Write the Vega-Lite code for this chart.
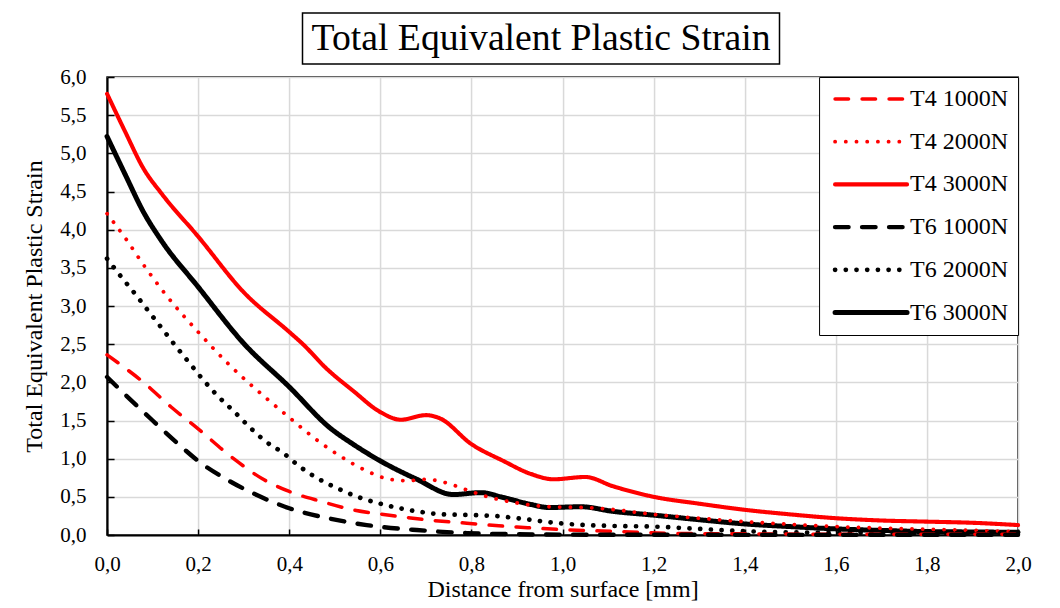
{
  "$schema": "https://vega.github.io/schema/vega-lite/v6.json",
  "background": "white",
  "padding": {"left": 22, "top": 12, "right": 5, "bottom": 5},
  "spacing": 0,
  "center": true,
  "bounds": "full",
  "resolve": {"legend": {"color": "independent", "strokeDash": "independent", "strokeWidth": "independent"}},
  "config": {
    "font": "Liberation Serif",
    "view": {"stroke": "black", "strokeWidth": 1.5}
  },
  "vconcat": [
    {
      "spacing": 0,
      "hconcat": [
        {
          "width": 477,
          "height": 51,
          "data": {"values": [{"label": "Total Equivalent Plastic Strain"}]},
          "mark": {"type": "text", "fontSize": 37.7, "font": "Liberation Serif", "color": "black", "align": "center", "baseline": "middle"},
          "encoding": {"text": {"field": "label"}},
          "view": {"stroke": "black", "strokeWidth": 1.5}
        },
        {
          "width": 56,
          "height": 51,
          "data": {"values": [{"label": ""}]},
          "mark": {"type": "text", "fontSize": 10},
          "encoding": {"text": {"field": "label"}},
          "view": {"stroke": null}
        }
      ]
    },
    {
      "width": 911,
      "height": 458,
      "view": {"stroke": "black", "strokeWidth": 1.5},
      "data": {"values": [
        {"series": "T4 3000N", "distance": 0, "strain": 5.78},
        {"series": "T4 3000N", "distance": 0.04, "strain": 5.28},
        {"series": "T4 3000N", "distance": 0.08, "strain": 4.8},
        {"series": "T4 3000N", "distance": 0.12, "strain": 4.47},
        {"series": "T4 3000N", "distance": 0.2, "strain": 3.91},
        {"series": "T4 3000N", "distance": 0.3, "strain": 3.18},
        {"series": "T4 3000N", "distance": 0.4, "strain": 2.66},
        {"series": "T4 3000N", "distance": 0.43, "strain": 2.5},
        {"series": "T4 3000N", "distance": 0.48, "strain": 2.19},
        {"series": "T4 3000N", "distance": 0.54, "strain": 1.89},
        {"series": "T4 3000N", "distance": 0.6, "strain": 1.61},
        {"series": "T4 3000N", "distance": 0.645, "strain": 1.51},
        {"series": "T4 3000N", "distance": 0.7, "strain": 1.57},
        {"series": "T4 3000N", "distance": 0.73, "strain": 1.53},
        {"series": "T4 3000N", "distance": 0.8, "strain": 1.19},
        {"series": "T4 3000N", "distance": 0.87, "strain": 0.97},
        {"series": "T4 3000N", "distance": 0.93, "strain": 0.8},
        {"series": "T4 3000N", "distance": 0.98, "strain": 0.73},
        {"series": "T4 3000N", "distance": 1.05, "strain": 0.76},
        {"series": "T4 3000N", "distance": 1.11, "strain": 0.64},
        {"series": "T4 3000N", "distance": 1.2, "strain": 0.5},
        {"series": "T4 3000N", "distance": 1.3, "strain": 0.41},
        {"series": "T4 3000N", "distance": 1.4, "strain": 0.33},
        {"series": "T4 3000N", "distance": 1.5, "strain": 0.27},
        {"series": "T4 3000N", "distance": 1.6, "strain": 0.22},
        {"series": "T4 3000N", "distance": 1.7, "strain": 0.19},
        {"series": "T4 3000N", "distance": 1.8, "strain": 0.175},
        {"series": "T4 3000N", "distance": 1.9, "strain": 0.16},
        {"series": "T4 3000N", "distance": 2.0, "strain": 0.13},

        {"series": "T6 3000N", "distance": 0, "strain": 5.22},
        {"series": "T6 3000N", "distance": 0.04, "strain": 4.72},
        {"series": "T6 3000N", "distance": 0.08, "strain": 4.23},
        {"series": "T6 3000N", "distance": 0.12, "strain": 3.85},
        {"series": "T6 3000N", "distance": 0.2, "strain": 3.25},
        {"series": "T6 3000N", "distance": 0.3, "strain": 2.51},
        {"series": "T6 3000N", "distance": 0.4, "strain": 1.94},
        {"series": "T6 3000N", "distance": 0.49, "strain": 1.4},
        {"series": "T6 3000N", "distance": 0.54, "strain": 1.19},
        {"series": "T6 3000N", "distance": 0.6, "strain": 0.97},
        {"series": "T6 3000N", "distance": 0.68, "strain": 0.73},
        {"series": "T6 3000N", "distance": 0.76, "strain": 0.53},
        {"series": "T6 3000N", "distance": 0.82, "strain": 0.555},
        {"series": "T6 3000N", "distance": 0.87, "strain": 0.49},
        {"series": "T6 3000N", "distance": 0.93, "strain": 0.4},
        {"series": "T6 3000N", "distance": 0.97, "strain": 0.36},
        {"series": "T6 3000N", "distance": 1.04, "strain": 0.37},
        {"series": "T6 3000N", "distance": 1.11, "strain": 0.31},
        {"series": "T6 3000N", "distance": 1.2, "strain": 0.26},
        {"series": "T6 3000N", "distance": 1.3, "strain": 0.2},
        {"series": "T6 3000N", "distance": 1.4, "strain": 0.145},
        {"series": "T6 3000N", "distance": 1.5, "strain": 0.11},
        {"series": "T6 3000N", "distance": 1.6, "strain": 0.08},
        {"series": "T6 3000N", "distance": 1.7, "strain": 0.06},
        {"series": "T6 3000N", "distance": 1.8, "strain": 0.045},
        {"series": "T6 3000N", "distance": 1.9, "strain": 0.04},
        {"series": "T6 3000N", "distance": 2.0, "strain": 0.035},

        {"series": "T4 2000N", "distance": 0, "strain": 4.21},
        {"series": "T4 2000N", "distance": 0.04, "strain": 3.89},
        {"series": "T4 2000N", "distance": 0.08, "strain": 3.54},
        {"series": "T4 2000N", "distance": 0.13, "strain": 3.14},
        {"series": "T4 2000N", "distance": 0.2, "strain": 2.66},
        {"series": "T4 2000N", "distance": 0.27, "strain": 2.22},
        {"series": "T4 2000N", "distance": 0.35, "strain": 1.79},
        {"series": "T4 2000N", "distance": 0.4, "strain": 1.54},
        {"series": "T4 2000N", "distance": 0.455, "strain": 1.27},
        {"series": "T4 2000N", "distance": 0.51, "strain": 1.04},
        {"series": "T4 2000N", "distance": 0.57, "strain": 0.84},
        {"series": "T4 2000N", "distance": 0.62, "strain": 0.73},
        {"series": "T4 2000N", "distance": 0.66, "strain": 0.71},
        {"series": "T4 2000N", "distance": 0.7, "strain": 0.73},
        {"series": "T4 2000N", "distance": 0.74, "strain": 0.69},
        {"series": "T4 2000N", "distance": 0.79, "strain": 0.59},
        {"series": "T4 2000N", "distance": 0.83, "strain": 0.51},
        {"series": "T4 2000N", "distance": 0.9, "strain": 0.42},
        {"series": "T4 2000N", "distance": 0.97, "strain": 0.37},
        {"series": "T4 2000N", "distance": 1.05, "strain": 0.36},
        {"series": "T4 2000N", "distance": 1.1, "strain": 0.34},
        {"series": "T4 2000N", "distance": 1.2, "strain": 0.27},
        {"series": "T4 2000N", "distance": 1.3, "strain": 0.22},
        {"series": "T4 2000N", "distance": 1.4, "strain": 0.175},
        {"series": "T4 2000N", "distance": 1.5, "strain": 0.14},
        {"series": "T4 2000N", "distance": 1.6, "strain": 0.11},
        {"series": "T4 2000N", "distance": 1.7, "strain": 0.09},
        {"series": "T4 2000N", "distance": 1.8, "strain": 0.075},
        {"series": "T4 2000N", "distance": 1.9, "strain": 0.06},
        {"series": "T4 2000N", "distance": 2.0, "strain": 0.045},

        {"series": "T6 2000N", "distance": 0, "strain": 3.62},
        {"series": "T6 2000N", "distance": 0.03, "strain": 3.39},
        {"series": "T6 2000N", "distance": 0.06, "strain": 3.17},
        {"series": "T6 2000N", "distance": 0.09, "strain": 2.94},
        {"series": "T6 2000N", "distance": 0.12, "strain": 2.71},
        {"series": "T6 2000N", "distance": 0.15, "strain": 2.48},
        {"series": "T6 2000N", "distance": 0.18, "strain": 2.26},
        {"series": "T6 2000N", "distance": 0.21, "strain": 2.04},
        {"series": "T6 2000N", "distance": 0.24, "strain": 1.84},
        {"series": "T6 2000N", "distance": 0.28, "strain": 1.61},
        {"series": "T6 2000N", "distance": 0.31, "strain": 1.43},
        {"series": "T6 2000N", "distance": 0.345, "strain": 1.24},
        {"series": "T6 2000N", "distance": 0.39, "strain": 1.06},
        {"series": "T6 2000N", "distance": 0.42, "strain": 0.91},
        {"series": "T6 2000N", "distance": 0.46, "strain": 0.75},
        {"series": "T6 2000N", "distance": 0.51, "strain": 0.6},
        {"series": "T6 2000N", "distance": 0.55, "strain": 0.5},
        {"series": "T6 2000N", "distance": 0.6, "strain": 0.41},
        {"series": "T6 2000N", "distance": 0.67, "strain": 0.32},
        {"series": "T6 2000N", "distance": 0.74, "strain": 0.27},
        {"series": "T6 2000N", "distance": 0.81, "strain": 0.26},
        {"series": "T6 2000N", "distance": 0.86, "strain": 0.245},
        {"series": "T6 2000N", "distance": 0.9, "strain": 0.22},
        {"series": "T6 2000N", "distance": 1.0, "strain": 0.15},
        {"series": "T6 2000N", "distance": 1.1, "strain": 0.12},
        {"series": "T6 2000N", "distance": 1.2, "strain": 0.11},
        {"series": "T6 2000N", "distance": 1.3, "strain": 0.08},
        {"series": "T6 2000N", "distance": 1.4, "strain": 0.05},
        {"series": "T6 2000N", "distance": 1.5, "strain": 0.035},
        {"series": "T6 2000N", "distance": 1.6, "strain": 0.03},
        {"series": "T6 2000N", "distance": 1.8, "strain": 0.025},
        {"series": "T6 2000N", "distance": 2.0, "strain": 0.02},

        {"series": "T4 1000N", "distance": 0, "strain": 2.36},
        {"series": "T4 1000N", "distance": 0.03, "strain": 2.23},
        {"series": "T4 1000N", "distance": 0.08, "strain": 2.0},
        {"series": "T4 1000N", "distance": 0.14, "strain": 1.68},
        {"series": "T4 1000N", "distance": 0.2, "strain": 1.39},
        {"series": "T4 1000N", "distance": 0.28, "strain": 0.99},
        {"series": "T4 1000N", "distance": 0.34, "strain": 0.74},
        {"series": "T4 1000N", "distance": 0.4, "strain": 0.57},
        {"series": "T4 1000N", "distance": 0.47, "strain": 0.44},
        {"series": "T4 1000N", "distance": 0.54, "strain": 0.33},
        {"series": "T4 1000N", "distance": 0.62, "strain": 0.26},
        {"series": "T4 1000N", "distance": 0.7, "strain": 0.2},
        {"series": "T4 1000N", "distance": 0.79, "strain": 0.155},
        {"series": "T4 1000N", "distance": 0.86, "strain": 0.12},
        {"series": "T4 1000N", "distance": 0.9, "strain": 0.105},
        {"series": "T4 1000N", "distance": 1.0, "strain": 0.07},
        {"series": "T4 1000N", "distance": 1.13, "strain": 0.045},
        {"series": "T4 1000N", "distance": 1.25, "strain": 0.02},
        {"series": "T4 1000N", "distance": 1.4, "strain": 0.015},
        {"series": "T4 1000N", "distance": 1.6, "strain": 0.01},
        {"series": "T4 1000N", "distance": 1.8, "strain": 0.01},
        {"series": "T4 1000N", "distance": 2.0, "strain": 0.01},

        {"series": "T6 1000N", "distance": 0, "strain": 2.07},
        {"series": "T6 1000N", "distance": 0.05, "strain": 1.78},
        {"series": "T6 1000N", "distance": 0.1, "strain": 1.5},
        {"series": "T6 1000N", "distance": 0.155, "strain": 1.2},
        {"series": "T6 1000N", "distance": 0.2, "strain": 0.97},
        {"series": "T6 1000N", "distance": 0.265, "strain": 0.72},
        {"series": "T6 1000N", "distance": 0.33, "strain": 0.52},
        {"series": "T6 1000N", "distance": 0.4, "strain": 0.35},
        {"series": "T6 1000N", "distance": 0.485, "strain": 0.22},
        {"series": "T6 1000N", "distance": 0.57, "strain": 0.13},
        {"series": "T6 1000N", "distance": 0.68, "strain": 0.065},
        {"series": "T6 1000N", "distance": 0.79, "strain": 0.025},
        {"series": "T6 1000N", "distance": 0.9, "strain": 0.01},
        {"series": "T6 1000N", "distance": 1.0, "strain": 0.005},
        {"series": "T6 1000N", "distance": 1.2, "strain": 0.003},
        {"series": "T6 1000N", "distance": 1.5, "strain": 0.002},
        {"series": "T6 1000N", "distance": 2.0, "strain": 0.002}
      ]},
      "mark": {"type": "line", "interpolate": "monotone", "strokeCap": "round"},
      "encoding": {
        "x": {
          "field": "distance", "type": "quantitative",
          "scale": {"domain": [0, 2], "nice": false},
          "axis": {
            "title": "Distance from surface [mm]",
            "values": [0, 0.2, 0.4, 0.6, 0.8, 1.0, 1.2, 1.4, 1.6, 1.8, 2.0],
            "labelExpr": "replace(format(datum.value, '.1f'), '.', ',')",
            "labelFlush": false, "labelOverlap": false,
            "labelFontSize": 21, "labelColor": "black", "labelFont": "Liberation Serif",
            "labelPadding": 24,
            "tickSize": -6, "tickColor": "black", "tickWidth": 1.5,
            "domainColor": "black", "domainWidth": 2,
            "grid": true, "gridColor": "#d9d9d9", "gridWidth": 1.5,
            "titleFontSize": 24, "titleFontWeight": "normal", "titleColor": "black", "titleFont": "Liberation Serif",
            "titlePadding": 3
          }
        },
        "y": {
          "field": "strain", "type": "quantitative",
          "scale": {"domain": [0, 6], "nice": false},
          "axis": {
            "title": "Total Equivalent Plastic Strain",
            "values": [0, 0.5, 1, 1.5, 2, 2.5, 3, 3.5, 4, 4.5, 5, 5.5, 6],
            "labelExpr": "replace(format(datum.value, '.1f'), '.', ',')",
            "labelFlush": false, "labelOverlap": false,
            "labelFontSize": 21, "labelColor": "black", "labelFont": "Liberation Serif",
            "labelPadding": 28,
            "tickSize": -7, "tickColor": "black", "tickWidth": 1.5,
            "domainColor": "black", "domainWidth": 2,
            "grid": true, "gridColor": "#d9d9d9", "gridWidth": 1.5,
            "titleFontSize": 24, "titleFontWeight": "normal", "titleColor": "black", "titleFont": "Liberation Serif",
            "titlePadding": 13
          }
        },
        "color": {
          "field": "series", "type": "nominal",
          "scale": {
            "domain": ["T4 1000N", "T4 2000N", "T4 3000N", "T6 1000N", "T6 2000N", "T6 3000N"],
            "range": ["#ff0000", "#ff0000", "#ff0000", "#000000", "#000000", "#000000"]
          },
          "legend": {
            "title": null, "orient": "top-right", "offset": 0,
            "strokeColor": "black", "fillColor": "white", "padding": 10,
            "symbolType": "M-0.75,0H8.25", "symbolSize": 256,
            "labelFontSize": 24, "labelFont": "Liberation Serif", "labelColor": "black",
            "labelExpr": "datum.label + '\u00a0\u00a0'",
            "labelOffset": 57, "rowPadding": 18.7,
            "encode": {"symbols": {"update": {"strokeCap": {"value": "round"}}}}
          }
        },
        "strokeDash": {
          "field": "series", "type": "nominal",
          "scale": {
            "domain": ["T4 1000N", "T4 2000N", "T4 3000N", "T6 1000N", "T6 2000N", "T6 3000N"],
            "range": [[13.5, 13.5], [0.1, 10.6], [1, 0], [13.5, 13.5], [0.1, 10.6], [1, 0]]
          },
          "legend": {
            "title": null, "orient": "top-right", "offset": 0,
            "strokeColor": "black", "fillColor": "white", "padding": 10,
            "symbolType": "M-0.75,0H8.25", "symbolSize": 256,
            "labelFontSize": 24, "labelFont": "Liberation Serif", "labelColor": "black",
            "labelExpr": "datum.label + '\u00a0\u00a0'",
            "labelOffset": 57, "rowPadding": 18.7,
            "encode": {"symbols": {"update": {"strokeCap": {"value": "round"}}}}
          }
        },
        "strokeWidth": {
          "field": "series", "type": "nominal",
          "scale": {
            "domain": ["T4 1000N", "T4 2000N", "T4 3000N", "T6 1000N", "T6 2000N", "T6 3000N"],
            "range": [3.5, 5, 3.5, 3.5, 5, 3.5]
          },
          "legend": {
            "title": null, "orient": "top-right", "offset": 0,
            "strokeColor": "black", "fillColor": "white", "padding": 10,
            "symbolType": "M-0.75,0H8.25", "symbolSize": 256,
            "labelFontSize": 24, "labelFont": "Liberation Serif", "labelColor": "black",
            "labelExpr": "datum.label + '\u00a0\u00a0'",
            "labelOffset": 57, "rowPadding": 18.7,
            "encode": {"symbols": {"update": {"strokeCap": {"value": "round"}}}}
          }
        }
      }
    }
  ]
}
